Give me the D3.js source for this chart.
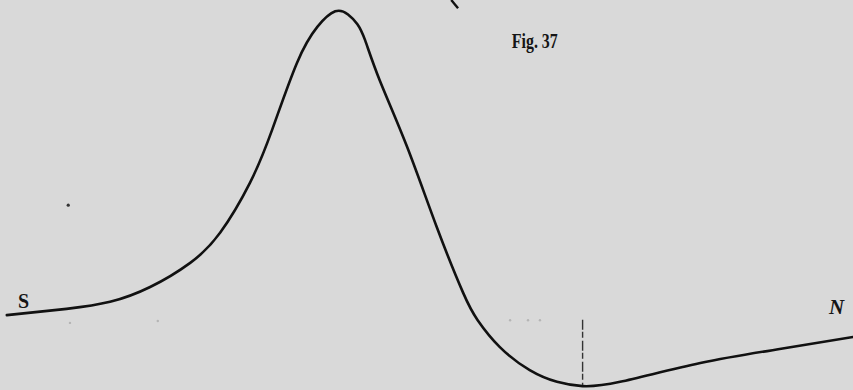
<!DOCTYPE html>
<html>
<head>
<meta charset="utf-8">
<script src="https://cdn.jsdelivr.net/npm/d3@7"></script>
<style>
  html, body { margin: 0; padding: 0; background: #d9d9d9; }
  svg { display: block; }
</style>
</head>
<body>
<svg id="chart" width="853" height="390"></svg>
<script>
// Curve profile (S -> N), arbitrary units: position 0..100, height 0..100
const positions = [0.8, 7.8, 12.9, 17.6, 22.3, 25.8, 29.3, 31.9, 34.8, 37.2, 39.3, 40.8, 41.9, 42.8, 44.5, 47.7, 51.2, 54.3, 56.0, 58.6, 62.1, 65.3, 68.3, 72.7, 82.1, 91.4, 100];
const heights   = [19.2, 20.8, 22.6, 26.4, 32.6, 40.3, 53.1, 66.7, 83.8, 93.1, 97.1, 96.3, 93.8, 89.7, 79.5, 62.5, 41.8, 24.9, 17.9, 11.0, 5.1, 2.1, 1.0, 2.1, 6.9, 10.5, 13.6];

// Marker line at the minimum
const markerPos = 68.3;
const markerTop = 18.0;
const markerBottom = 1.3;

// Labels
const labelTexts = ["S", "N", "Fig. 37"];
const labelPos   = [2.1, 97.2, 60.0];
const labelH     = [21.0, 19.4, 87.7];

// Stray marks from the print
const specksPos = [8.0, 59.8, 61.9, 63.3, 8.2, 18.5];
const specksH   = [47.4, 17.9, 17.9, 17.9, 17.2, 17.7];

const W = 853, H = 390;
const x = d3.scaleLinear().domain([0, 100]).range([0, W]);
const y = d3.scaleLinear().domain([0, 100]).range([H, 0]);

const svg = d3.select("#chart");

const data = positions.map((p, i) => ({ p, h: heights[i] }));
const line = d3.line().x(d => x(d.p)).y(d => y(d.h)).curve(d3.curveNatural);

svg.append("path")
  .datum(data)
  .attr("d", line)
  .attr("fill", "none")
  .attr("stroke", "#111")
  .attr("stroke-width", 2.6)
  .attr("stroke-linecap", "round");

// dashed vertical marker
svg.append("line")
  .attr("x1", x(markerPos)).attr("x2", x(markerPos))
  .attr("y1", y(markerTop)).attr("y2", y(markerBottom))
  .attr("stroke", "#333")
  .attr("stroke-width", 1.4)
  .attr("stroke-dasharray", "10,2,6,3");

// small stroke at top
svg.append("line")
  .attr("x1", x(52.9)).attr("y1", y(100))
  .attr("x2", x(53.7)).attr("y2", y(97.9))
  .attr("stroke", "#111").attr("stroke-width", 2.4);

// specks
svg.selectAll("circle.speck")
  .data(specksPos.map((p, i) => ({ p, h: specksH[i], i })))
  .join("circle")
  .attr("class", "speck")
  .attr("cx", d => x(d.p)).attr("cy", d => y(d.h))
  .attr("r", d => d.i === 0 ? 1.6 : 1.2)
  .attr("fill", d => d.i === 0 ? "#333" : "#b5b5b5");

// labels
const fontSizes = [20, 21, 21];
svg.selectAll("text.lbl")
  .data(labelTexts.map((t, i) => ({ t, p: labelPos[i], h: labelH[i], i })))
  .join("text")
  .attr("class", "lbl")
  .attr("x", d => x(d.p)).attr("y", d => y(d.h))
  .attr("font-family", "'Liberation Serif', 'DejaVu Serif', serif")
  .attr("font-weight", "bold")
  .attr("font-style", d => d.i === 1 ? "italic" : "normal")
  .attr("font-size", d => fontSizes[d.i])
  .attr("fill", "#151515")
  .attr("textLength", d => d.i === 2 ? 46 : null)
  .attr("lengthAdjust", "spacingAndGlyphs")
  .text(d => d.t);
</script>
</body>
</html>
